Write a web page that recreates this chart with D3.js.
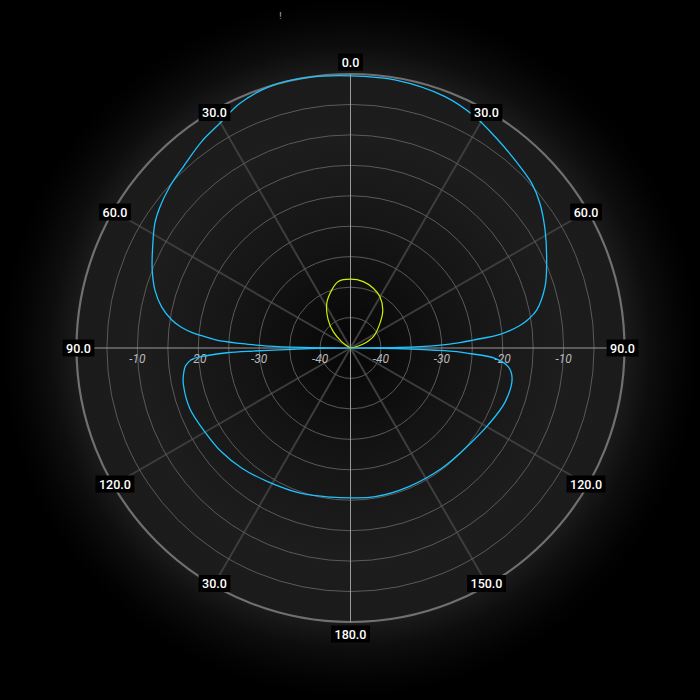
<!DOCTYPE html>
<html>
<head>
<meta charset="utf-8">
<script src="https://cdn.jsdelivr.net/npm/d3@7"></script>
<style>
html,body{margin:0;padding:0;background:#000;}
svg{display:block;}
</style>
</head>
<body>
<svg id="chart" width="700" height="700"></svg>
<script>
// ---- data (angle in degrees clockwise from top, level in dB) ----
const blueAngles = [-180,-172.8,-161.4,-148.4,-137.9,-128.8,-119.9,-110.6,-102.5,-99.2,-96,-94,-93,-92.2,-91.8,-91.3,-90.7,-90,
  -89.3,-88.7,-88.2,-87.6,-86.6,-85.5,-84.5,-83,-81.1,-77.7,-73.5,-68.5,-62.9,-57.5,-53.4,-48.2,-42.7,-35.8,-30.1,-24.3,-16.4,-9.2,0,
  9.4,20.6,28.3,34.4,41.2,47.7,52.6,58.8,66.6,72.5,78.5,80.8,82.5,84.7,86.3,87.2,88.4,89.3,90,
  90.5,91,91.5,92,92.6,94.1,96.8,100.6,109.2,119.2,129.5,142.8,157.4,170.6,180];
const blueValues = [-20.4,-20.3,-19.8,-19.2,-18.4,-17.8,-17.4,-16.8,-16.9,-17.2,-17.8,-19.0,-21.5,-24.7,-29.0,-35.6,-40,-50,
  -37,-31.5,-29.6,-26.8,-23.0,-21.0,-19.0,-17.0,-15.3,-13.25,-11.5,-10.0,-8.5,-6.9,-6.05,-5.2,-4.5,-3.2,-2.3,-0.9,0.0,0.0,-0.3,
  -0.38,-0.9,-1.86,-2.96,-3.98,-4.78,-5.85,-7.64,-9.9,-11.5,-13.8,-15.4,-17.0,-20.2,-24.8,-27.0,-31.0,-37,-50,
  -40,-35,-31,-27.5,-25.6,-21.2,-18.9,-18.0,-18.1,-19.1,-19.9,-20.2,-20.3,-20.25,-20.4];

const yellowAngles = [-90,-65,-60,-54.4,-46.5,-38.4,-28,-18,-10.4,0,10.9,20.9,29.9,40.3,50.1,63.6,72.6,80,90];
const yellowValues = [-50,-46,-44.5,-43.2,-41.1,-39.1,-36.7,-35.0,-33.9,-33.7,-33.9,-34.5,-35.3,-36.8,-38.7,-40.8,-42.8,-44.5,-50];

const ringLevels = [-40,-35,-30,-25,-20,-15,-10,-5];
const ringLabelLevels = [-10,-20,-30,-40];
const spokeAngles = [0,30,60,90,120,150,180,210,240,270,300,330];
const angleLabels = ["0.0","30.0","60.0","90.0","120.0","150.0","180.0","30.0","120.0","90.0","60.0","30.0"];
const titleText = "!";

// ---- layout ----
const W = 700, H = 700, cx = 350.5, cy = 348, R = 274;
const svg = d3.select("#chart");

const rScale = d3.scaleLinear().domain([-45, 0]).range([0, R]).clamp(true);
const rad = d => d * Math.PI / 180;

// background gradient
const defs = svg.append("defs");
const grad = defs.append("radialGradient").attr("id","bg")
  .attr("gradientUnits","userSpaceOnUse").attr("cx",cx).attr("cy",cy).attr("r",350);
[[0,"#060606"],[0.15,"#0d0d0d"],[0.35,"#161616"],[0.6,"#1d1d1d"],[0.78,"#1b1b1b"],[0.86,"#0d0d0d"],[0.95,"#030303"],[1,"#000"]]
  .forEach(([o,c]) => grad.append("stop").attr("offset",o).attr("stop-color",c));
svg.append("rect").attr("width",W).attr("height",H).attr("fill","#000");
svg.append("rect").attr("width",W).attr("height",H).attr("fill","url(#bg)");

svg.append("text").attr("x",280.5).attr("y",19).attr("text-anchor","middle")
  .attr("font-family","Roboto, sans-serif").attr("font-size",9).attr("fill","#bbb").text(titleText);

const g = svg.append("g").attr("transform",`translate(${cx},${cy})`);

// spokes
g.selectAll("line.spoke").data(spokeAngles.filter(a => a % 90 !== 0)).join("line")
  .attr("x1",0).attr("y1",0)
  .attr("x2",a => R*Math.sin(rad(a))).attr("y2",a => -R*Math.cos(rad(a)))
  .attr("stroke","#3d3d3d").attr("stroke-width",2);

// rings
g.selectAll("circle.ring").data(ringLevels).join("circle")
  .attr("r",d => rScale(d)).attr("fill","none").attr("stroke","#5a5a5a").attr("stroke-width",1);
g.append("circle").attr("r",rScale(0)).attr("fill","none").attr("stroke","#707070").attr("stroke-width",2.2);

// main axes
g.selectAll("line.axis").data(spokeAngles.filter(a => a % 90 === 0)).join("line")
  .attr("x1",0).attr("y1",0)
  .attr("x2",a => R*Math.sin(rad(a))).attr("y2",a => -R*Math.cos(rad(a)))
  .attr("stroke","#9a9a9a").attr("stroke-width",1);

// ring labels
const rl = [];
ringLabelLevels.forEach(v => { rl.push({v, s:-1}); rl.push({v, s:1}); });
g.selectAll("text.rl").data(rl).join("text")
  .attr("x",d => d.s*rScale(d.v)).attr("y",15)
  .attr("text-anchor","middle").attr("font-family","Roboto, sans-serif")
  .attr("font-style","italic").attr("font-size",12).attr("fill","#b8b8b8")
  .text(d => d.v);

// traces
const line = d3.lineRadial().angle(d => rad(d.a)).radius(d => rScale(d.v))
  .curve(d3.curveCatmullRom.alpha(0.5));
const blue = blueAngles.map((a,i) => ({a, v: blueValues[i]}));
const yellow = yellowAngles.map((a,i) => ({a, v: yellowValues[i]}));
g.append("path").datum(yellow).attr("d",line).attr("fill","none")
  .attr("stroke","#d2f000").attr("stroke-width",1.2);
g.append("path").datum(blue).attr("d",line).attr("fill","none")
  .attr("stroke","#1ec3ff").attr("stroke-width",1.3);

// angle labels
const al = g.selectAll("g.al").data(spokeAngles).join("g")
  .attr("transform",a => {
    const lr = (a % 180 === 0) ? 286 : 272;
    return `translate(${lr*Math.sin(rad(a))},${-lr*Math.cos(rad(a))})`;
  });
al.append("rect").attr("fill","#000");
al.append("text").attr("text-anchor","middle").attr("dy","0.36em")
  .attr("font-family","Roboto, sans-serif").attr("font-weight",500).attr("font-size",12.5)
  .attr("fill","#fff").text((a,i) => angleLabels[i]);
al.each(function(){
  const t = d3.select(this).select("text").node().getBBox();
  d3.select(this).select("rect").attr("x",t.x-3.5).attr("y",-8.5).attr("width",t.width+7).attr("height",17);
});
</script>
</body>
</html>
